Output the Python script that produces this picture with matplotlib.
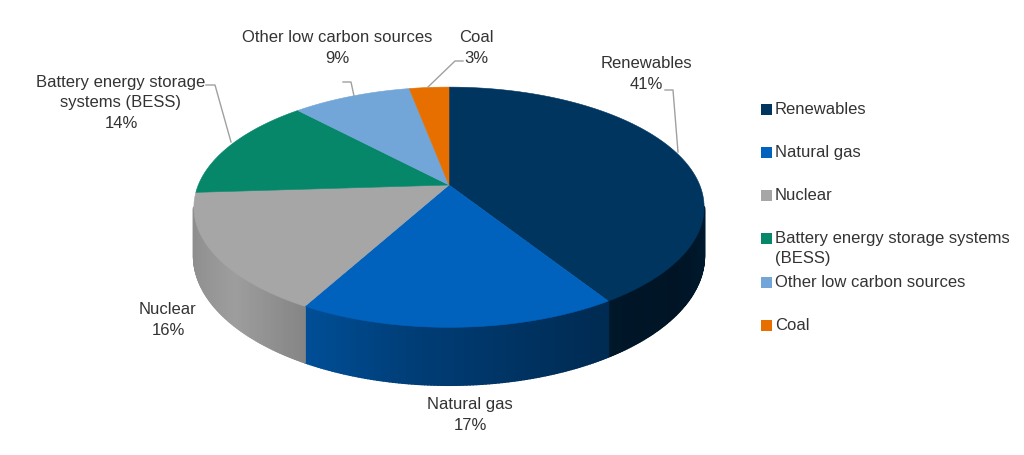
import matplotlib
matplotlib.use('Agg')
import matplotlib.pyplot as plt
from matplotlib.collections import PolyCollection
from matplotlib.patches import Polygon, Rectangle
import numpy as np

plt.rcParams.update({
    'font.family': ['Liberation Sans', 'DejaVu Sans'],
    'font.size': 12,
})

# data
categories = ['Renewables', 'Natural gas', 'Nuclear',
              'Battery energy storage systems (BESS)',
              'Other low carbon sources', 'Coal']
values = [41, 17, 16, 14, 9, 3]
colors = ['#003560', '#0062BD', '#A6A6A6', '#07876A', '#72A5D8', '#E66F00']
legend_labels = ['Renewables', 'Natural gas', 'Nuclear',
                 'Battery energy storage systems\n(BESS)',
                 'Other low carbon sources', 'Coal']
slice_labels = ['Renewables\n41%', 'Natural gas\n17%', 'Nuclear\n16%',
                'Battery energy storage\nsystems (BESS)\n14%',
                'Other low carbon sources\n9%', 'Coal\n3%']

# layout, in pixels of the 1024x455 picture
CX, CY = 449, 185
RX, RY = 250.7, 116
PERSP = 0.185
DEPTH = 47
TEXT_COLOR = '#333333'
LINE_COLOR = '#a0a0a0'
LABEL_POS = [(646, 74), (470, 415), (168, 320), (121, 103), (337, 48), (476, 48)]
LEADERS = [[(678, 152), (673, 90), (665, 90)],
           None,
           None,
           [(231, 142), (215, 85), (206, 85)],
           [(354, 96), (351, 82), (343, 82)],
           [(428, 87), (455, 61), (463, 61)]]
LEGEND_Y = [109, 152, 195, 238, 282, 325]

# side shading along the rim, left to right
SHADE_X = [-1.0, -0.75, -0.48, -0.1, 0.5, 0.8, 1.0]
SHADE_F = [0.85, 0.95, 0.80, 0.62, 0.44, 0.38, 0.50]


def rim(t):
    """Rim point of the tilted disc, t = clockwise angle from the top."""
    x, y = np.sin(t), np.cos(t)
    s = 1 / (1 + PERSP * y)
    return CX + RX * x * s, CY - RY * y * s, s


fig = plt.figure(figsize=(10.24, 4.55), dpi=100)
ax = fig.add_axes([0, 0, 1, 1])
ax.set_xlim(0, 1024)
ax.set_ylim(455, 0)
ax.axis('off')

edges = 2 * np.pi * np.cumsum([0] + values) / sum(values)

# sides first, only the part of the rim facing the viewer
for i, col in enumerate(colors):
    t = np.linspace(edges[i], edges[i + 1], max(values[i] * 6, 12))
    x, y, s = rim(t)
    base = np.array(matplotlib.colors.to_rgb(col))
    quads, quad_cols = [], []
    for j in range(len(t) - 1):
        mid = (t[j] + t[j + 1]) / 2
        if np.cos(mid) > -PERSP:
            continue
        quads.append([(x[j], y[j]), (x[j + 1], y[j + 1]),
                      (x[j + 1], y[j + 1] + DEPTH * s[j + 1]),
                      (x[j], y[j] + DEPTH * s[j])])
        f = np.interp(np.sin(mid), SHADE_X, SHADE_F)
        quad_cols.append(tuple(base * f))
    if quads:
        ax.add_collection(PolyCollection(quads, facecolors=quad_cols,
                                         edgecolors=quad_cols, linewidths=1.5))

# top face
for i, col in enumerate(colors):
    t = np.linspace(edges[i], edges[i + 1], max(values[i] * 4, 12))
    x, y, _ = rim(t)
    pts = np.vstack([[CX, CY], np.column_stack([x, y])])
    ax.add_patch(Polygon(pts, closed=True, facecolor=col, edgecolor=col,
                         linewidth=0.4))

# slice labels and leader lines
for label, (lx, ly), leader in zip(slice_labels, LABEL_POS, LEADERS):
    ax.text(lx, ly, label, ha='center', va='center', color=TEXT_COLOR,
            fontsize=12, linespacing=1.42)
    if leader:
        ax.plot(*zip(*leader), color=LINE_COLOR, lw=1)

# legend
for label, col, ly in zip(legend_labels, colors, LEGEND_Y):
    ax.add_patch(Rectangle((761, ly - 5.5), 11, 11, facecolor=col, edgecolor='none'))
    ax.text(775, ly - 7, label, ha='left', va='top', color=TEXT_COLOR,
            fontsize=12, linespacing=1.42)

fig.savefig('out.png', dpi=100)
